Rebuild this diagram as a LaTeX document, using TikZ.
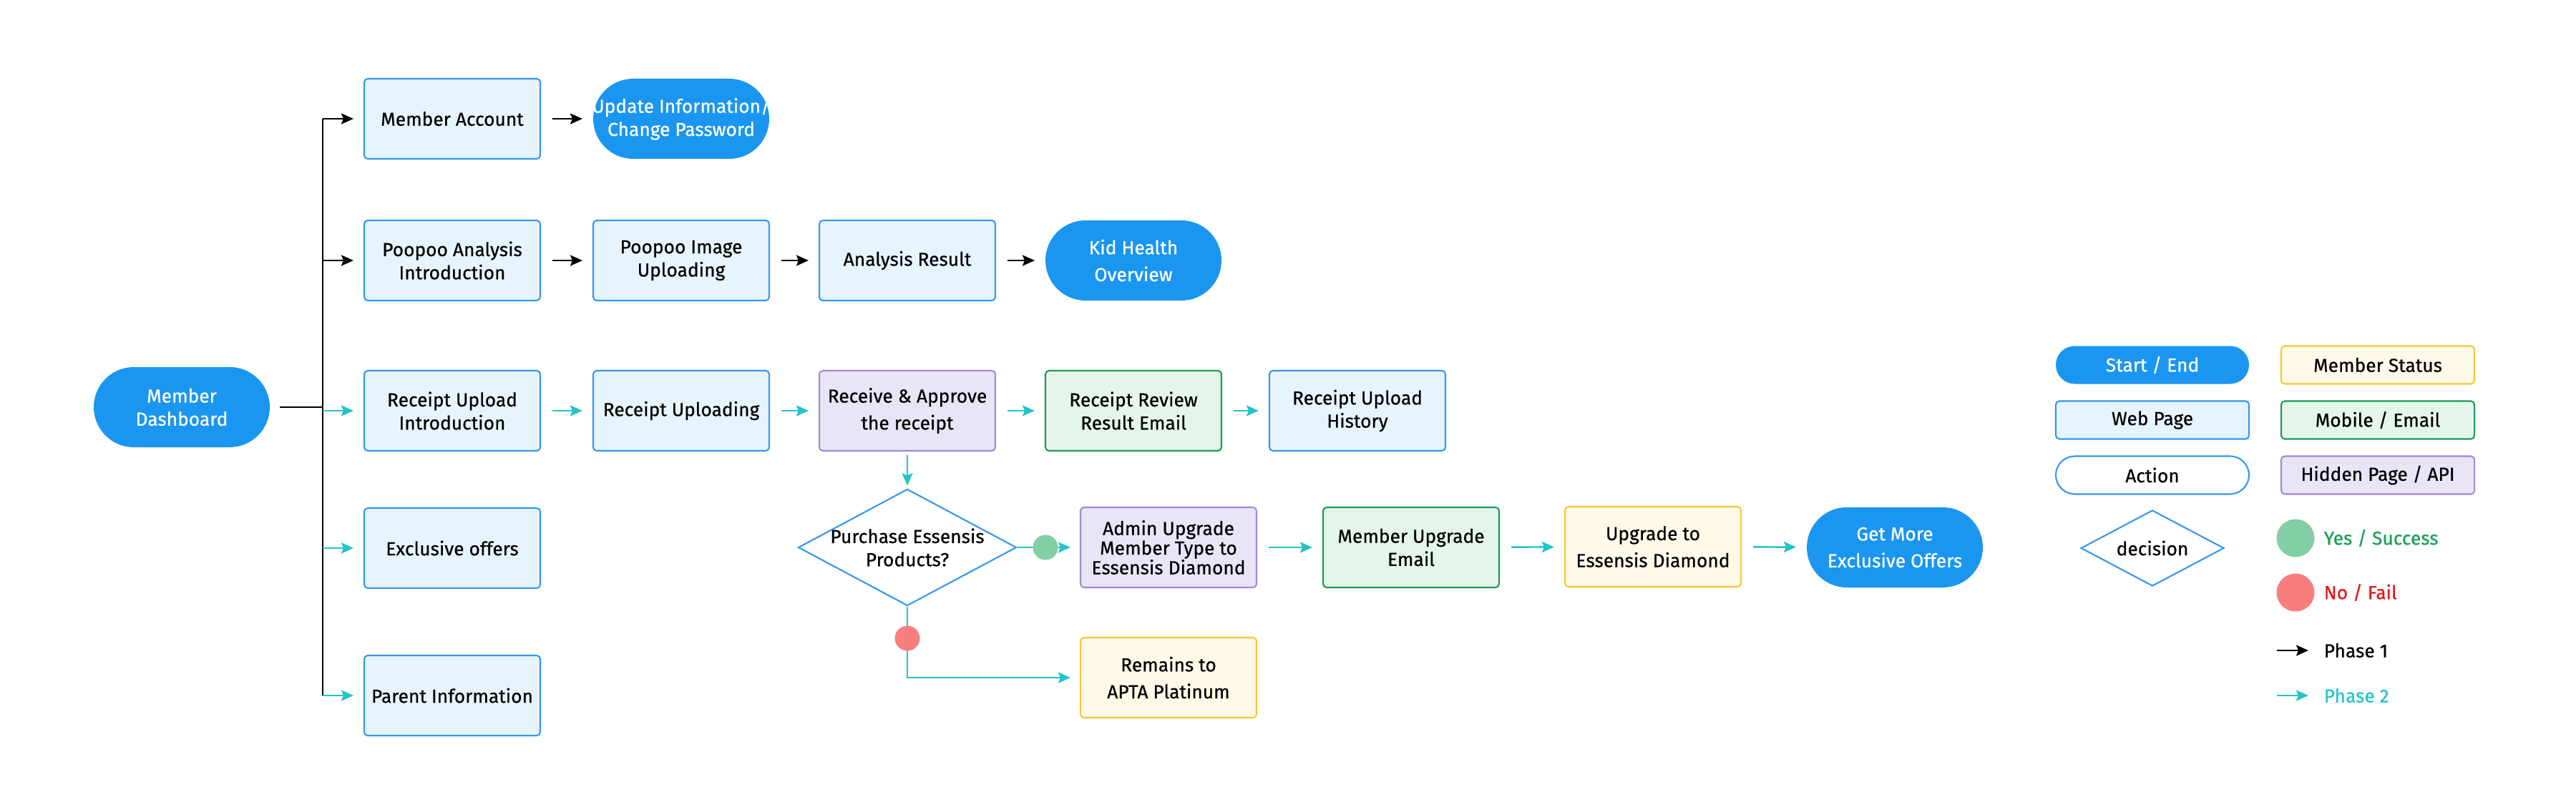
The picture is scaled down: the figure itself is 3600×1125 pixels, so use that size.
\documentclass[tikz,border=0pt]{standalone}
\usepackage{fontspec}
\setmainfont{Fira Sans}[FakeBold=0.5]
\usetikzlibrary{shapes.geometric,arrows.meta}

\definecolor{pillblue}{RGB}{26,150,240}
\definecolor{webfill}{RGB}{232,244,253}
\definecolor{webline}{RGB}{52,152,238}
\definecolor{hidfill}{RGB}{233,229,246}
\definecolor{hidline}{RGB}{160,138,214}
\definecolor{mailfill}{RGB}{229,245,235}
\definecolor{mailline}{RGB}{28,156,84}
\definecolor{statfill}{RGB}{254,249,232}
\definecolor{statline}{RGB}{245,200,52}
\definecolor{phteal}{RGB}{34,196,200}
\definecolor{yesdot}{RGB}{130,206,165}
\definecolor{nodot}{RGB}{249,126,126}
\definecolor{yestext}{RGB}{26,158,84}
\definecolor{notext}{RGB}{230,20,24}

\tikzset{
  every node/.style={font=\fontsize{7.5pt}{9.2pt}\selectfont, inner sep=0pt, align=center},
  loose/.style={font=\fontsize{7.5pt}{10.7pt}\selectfont},
  tight/.style={font=\fontsize{7.5pt}{7.8pt}\selectfont},
  pagebox/.style={minimum width=24.6mm, minimum height=11.2mm, line width=0.6pt, rounded corners=0.5mm},
  startend/.style={pagebox, fill=pillblue, text=white, rounded corners=5.6mm},
  webpage/.style={pagebox, fill=webfill, draw=webline},
  hidden/.style={pagebox, fill=hidfill, draw=hidline},
  mailbox/.style={pagebox, fill=mailfill, draw=mailline},
  status/.style={pagebox, fill=statfill, draw=statline},
  decision/.style={diamond, draw=webline, line width=0.6pt, minimum width=30.5mm, minimum height=16.3mm},
  dot/.style={circle, minimum size=3.5mm},
  lineone/.style={draw=black, line width=0.7pt},
  linetwo/.style={draw=phteal, line width=0.7pt},
  phaseone/.style={lineone, -{Stealth[length=1.7mm,width=1.5mm,inset=0.3mm]}},
  phasetwo/.style={linetwo, -{Stealth[length=1.7mm,width=1.5mm,inset=0.3mm]}},
  gap/.style={shorten <=1.6mm, shorten >=1.4mm}
}

\begin{document}
\begin{tikzpicture}[x=0.1mm,y=-0.1mm]
        \useasboundingbox (0,0) rectangle (3600,1125);

        %%%%%%%%%% Nodes %%%%%%%%%%
        \node[startend] (dash) at (254,569) {Member\\Dashboard};

        \node[webpage] (acct) at (632,166) {Member Account};
        \node[startend] (update) at (952,166) {\makebox[0pt]{Update Information/}\\Change Password};

        \node[webpage] (poointro) at (632,364) {Poopoo Analysis\\Introduction};
        \node[webpage] (pooupload) at (952,364) {Poopoo Image\\Uploading};
        \node[webpage] (result) at (1268,364) {Analysis Result};
        \node[startend, loose] (health) at (1584,364) {Kid Health\\Overview};

        \node[webpage] (rcptintro) at (632,574) {Receipt Upload\\Introduction};
        \node[webpage] (rcptupload) at (952,574) {Receipt Uploading};
        \node[hidden, loose] (approve) at (1268,574) {Receive \& Approve\\the receipt};
        \node[mailbox] (review) at (1584,574) {Receipt Review\\Result Email};
        \node[webpage] (history) at (1897,574) {Receipt Upload\\History};

        \node[webpage] (offers) at (632,766) {Exclusive offers};
        \node[webpage] (parent) at (632,972) {Parent Information};

        \node[decision, label={center:Purchase Essensis\\Products?}] (purchase) at (1268,765) {};
        \node[hidden, tight] (admin) at (1633,765) {Admin Upgrade\\Member Type to\\Essensis Diamond};
        \node[mailbox] (upmail) at (1972,765) {Member Upgrade\\Email};
        \node[status, loose] (upgrade) at (2310,764) {Upgrade to\\Essensis Diamond};
        \node[startend, loose] (more) at (2648,765) {Get More\\Exclusive Offers};
        \node[status, loose] (platinum) at (1633,947) {Remains to\\APTA Platinum};

        \coordinate (trunk) at (451,569);

        %%%%%%%%% Arrows %%%%%%%%%
        \draw[lineone, shorten <=1.3mm] (dash.east) -- (trunk);
        \draw[lineone] (trunk |- acct) -- (trunk |- parent);
        \draw[phaseone, shorten >=1.4mm] (trunk |- acct) -- (acct.west);
        \draw[phaseone, shorten >=1.4mm] (trunk |- poointro) -- (poointro.west);
        \draw[phasetwo, shorten >=1.4mm] (trunk |- rcptintro) -- (rcptintro.west);
        \draw[phasetwo, shorten >=1.4mm] (trunk |- offers) -- (offers.west);
        \draw[phasetwo, shorten >=1.4mm] (trunk |- parent) -- (parent.west);

        \draw[phaseone, gap] (acct) -- (update);
        \draw[phaseone, gap] (poointro) -- (pooupload);
        \draw[phaseone, gap] (pooupload) -- (result);
        \draw[phaseone, gap] (result) -- (health);

        \draw[phasetwo, gap] (rcptintro) -- (rcptupload);
        \draw[phasetwo, gap] (rcptupload) -- (approve);
        \draw[phasetwo, gap] (approve) -- (review);
        \draw[phasetwo, gap] (review) -- (history);

        \draw[phasetwo, shorten <=0.5mm, shorten >=0.4mm] (approve) -- (purchase);
        \draw[phasetwo, shorten >=1.3mm] (purchase.east) -- (admin.west);
        \draw[phasetwo, gap] (admin) -- (upmail);
        \draw[phasetwo, gap] (upmail) -- (upgrade);
        \draw[phasetwo, gap] (upgrade) -- (more);
        \draw[phasetwo, shorten >=1.3mm] (purchase.south) |- (platinum.west);

        \node[dot, fill=yesdot] (yes) at (1461,765) {};
        \node[dot, fill=nodot] (no) at (1268,892) {};

        %%%%%%%%% Legend %%%%%%%%%
        \tikzset{legbox/.style={minimum width=27mm, minimum height=5.3mm}}
        \node[startend, legbox, rounded corners=2.65mm] (kstart) at (3008,510) {Start / End};
        \node[status, legbox] (kstatus) at (3323,510) {Member Status};
        \node[webpage, legbox] (kweb) at (3008,587) {Web Page};
        \node[mailbox, legbox] (kmail) at (3323,587) {Mobile / Email};
        \node[webpage, legbox, fill=white, rounded corners=2.65mm] (kaction) at (3008,664) {Action};
        \node[hidden, legbox] (khidden) at (3323,664) {Hidden Page / API};
        \node[decision, minimum width=20mm, minimum height=10.6mm, label={center:decision}] (kdecision) at (3008,766) {};

        \node[dot, fill=yesdot, minimum size=5.3mm] (kyes) at (3208,752) {};
        \node[anchor=west, text=yestext] (kyestext) at (3247,752) {Yes / Success};
        \node[dot, fill=nodot, minimum size=5.3mm] (kno) at (3208,828) {};
        \node[anchor=west, text=notext] (knotext) at (3247,828) {No / Fail};

        \coordinate (kone) at (3182,909);
        \coordinate (konetip) at (3226,909);
        \draw[phaseone] (kone) -- (konetip);
        \node[anchor=west] (konetext) at (3247,909) {Phase 1};
        \coordinate (ktwo) at (3182,972);
        \coordinate (ktwotip) at (3226,972);
        \draw[phasetwo] (ktwo) -- (ktwotip);
        \node[anchor=west, text=phteal] (ktwotext) at (3247,972) {Phase 2};
    \end{tikzpicture}
\end{document}
